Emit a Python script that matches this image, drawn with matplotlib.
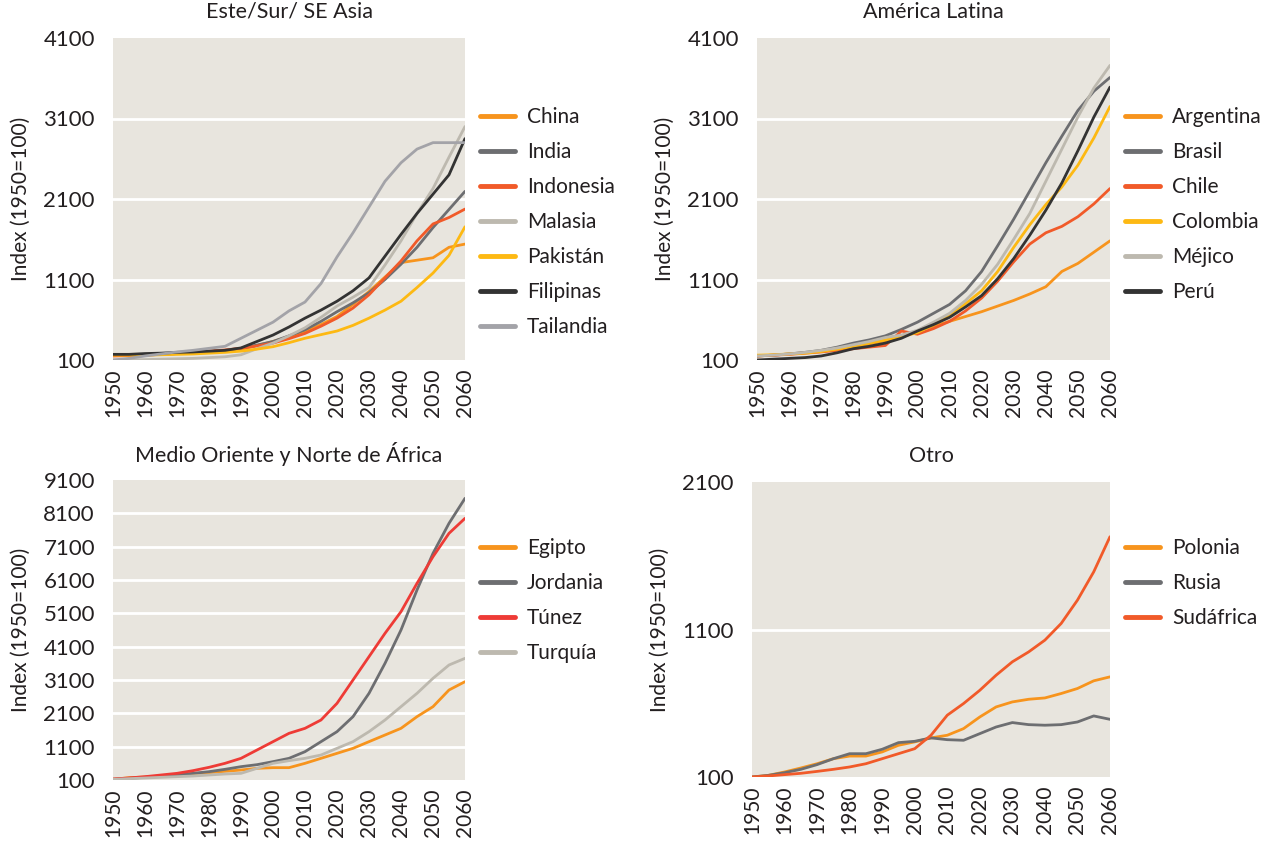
import matplotlib
matplotlib.use("Agg")
import matplotlib.pyplot as plt

plt.rcParams['font.family'] = ['Lato', 'DejaVu Sans']

years = list(range(1950, 2061, 5))
decades = list(range(1950, 2061, 10))

# Este/Sur/ SE Asia
china = [170, 170, 170, 175, 180, 190, 200, 210, 230, 280, 330, 390, 450, 540, 640, 790, 950, 1130, 1310, 1340, 1370, 1500, 1540]
india = [160, 160, 165, 170, 180, 190, 205, 220, 245, 285, 330, 400, 475, 580, 700, 810, 935, 1100, 1290, 1500, 1745, 1970, 2195]
indonesia = [150, 155, 160, 170, 180, 195, 210, 225, 245, 275, 310, 365, 430, 520, 620, 745, 910, 1120, 1330, 1580, 1790, 1870, 1975]
malasia = [100, 100, 105, 110, 115, 120, 130, 140, 165, 240, 310, 400, 500, 630, 770, 880, 1000, 1280, 1580, 1920, 2230, 2620, 3000]
pakistan = [160, 160, 160, 165, 170, 175, 185, 195, 210, 235, 265, 315, 370, 415, 460, 530, 620, 720, 830, 1000, 1180, 1400, 1755]
filipinas = [170, 170, 180, 185, 195, 200, 210, 220, 250, 330, 410, 510, 620, 720, 830, 960, 1120, 1390, 1660, 1920, 2160, 2400, 2850]
tailandia = [100, 120, 150, 175, 200, 220, 245, 270, 370, 470, 570, 710, 820, 1050, 1380, 1680, 2000, 2320, 2550, 2720, 2800, 2800, 2800]

# América Latina
argentina = [150, 160, 175, 190, 210, 240, 270, 300, 340, 400, 460, 520, 580, 640, 700, 770, 840, 920, 1010, 1200, 1300, 1440, 1580]
brasil = [150, 160, 175, 195, 220, 260, 310, 350, 400, 480, 570, 680, 790, 960, 1200, 1520, 1850, 2200, 2550, 2880, 3200, 3440, 3610]
chile = [150, 160, 170, 185, 200, 220, 240, 260, 280, 460, 420, 490, 580, 710, 870, 1080, 1320, 1540, 1680, 1760, 1880, 2040, 2230]
colombia = [160, 165, 175, 185, 205, 235, 270, 310, 350, 390, 440, 540, 650, 800, 960, 1200, 1500, 1780, 2030, 2250, 2520, 2860, 3250]
mejico = [150, 160, 175, 195, 220, 250, 290, 330, 380, 410, 470, 570, 680, 840, 1040, 1290, 1600, 1920, 2320, 2720, 3120, 3480, 3760]
peru = [100, 110, 120, 130, 150, 190, 240, 270, 310, 370, 460, 540, 630, 760, 900, 1110, 1360, 1650, 1960, 2300, 2700, 3120, 3490]

# Medio Oriente y Norte de África
egipto = [120, 170, 190, 220, 250, 290, 320, 360, 400, 450, 470, 470, 600, 750, 900, 1050, 1250, 1450, 1650, 2000, 2300, 2800, 3050]
jordania = [120, 150, 180, 220, 250, 300, 350, 420, 500, 560, 650, 750, 950, 1250, 1550, 2000, 2700, 3600, 4600, 5800, 6900, 7800, 8550]
tunez = [130, 160, 200, 250, 300, 380, 480, 600, 750, 1000, 1250, 1500, 1650, 1900, 2400, 3100, 3800, 4500, 5150, 6000, 6800, 7500, 7950]
turquia = [120, 140, 160, 180, 200, 220, 250, 280, 300, 450, 600, 680, 750, 850, 1050, 1250, 1550, 1900, 2300, 2700, 3150, 3550, 3750]

# Otro
polonia = [100, 111, 134, 161, 190, 224, 242, 242, 270, 315, 338, 365, 383, 428, 507, 575, 609, 627, 636, 666, 700, 752, 779]
rusia = [100, 111, 129, 152, 184, 224, 258, 258, 288, 333, 342, 365, 353, 349, 394, 439, 469, 455, 451, 455, 473, 514, 491]
sudafrica = [100, 107, 116, 125, 138, 152, 168, 190, 224, 258, 292, 383, 519, 598, 688, 790, 881, 948, 1028, 1141, 1299, 1491, 1729]

ORANGE = '#F7941D'
GRAY = '#6D6E71'
REDOR = '#F15A29'
BEIGE = '#BDB9AF'
YELLOW = '#FDB913'
DARK = '#333333'
LGRAY = '#A3A3A8'
RED = '#EE3B36'
BG = '#E8E5DE'
TXT = '#231F20'

panels = [
    ("Este/Sur/ SE Asia", [113, 38, 465, 360], [100, 1100, 2100, 3100, 4100],
     [("China", china, ORANGE), ("India", india, GRAY), ("Indonesia", indonesia, REDOR),
      ("Malasia", malasia, BEIGE), ("Pakistán", pakistan, YELLOW),
      ("Filipinas", filipinas, DARK), ("Tailandia", tailandia, LGRAY)], 116),
    ("América Latina", [757, 38, 1110, 360], [100, 1100, 2100, 3100, 4100],
     [("Argentina", argentina, ORANGE), ("Brasil", brasil, GRAY), ("Chile", chile, REDOR),
      ("Colombia", colombia, YELLOW), ("Méjico", mejico, BEIGE), ("Perú", peru, DARK)], 116),
    ("Medio Oriente y Norte de África", [113, 480, 465, 780], list(range(100, 9101, 1000)),
     [("Egipto", egipto, ORANGE), ("Jordania", jordania, GRAY), ("Túnez", tunez, RED),
      ("Turquía", turquia, BEIGE)], 547),
    ("Otro", [752, 482, 1110, 777], [100, 1100, 2100],
     [("Polonia", polonia, ORANGE), ("Rusia", rusia, GRAY), ("Sudáfrica", sudafrica, REDOR)], 547),
]

W, H = 1276, 843
fig = plt.figure(figsize=(W / 100, H / 100), dpi=100)

for title, (x0, y0, x1, y1), yticks, series, leg_y in panels:
    ax = fig.add_axes([x0 / W, 1 - y1 / H, (x1 - x0) / W, (y1 - y0) / H])
    ax.set_facecolor(BG)
    for name, vals, col in series:
        ax.plot(years, vals, color=col, lw=2.0, label=name, solid_capstyle='round')
    ax.set_xlim(1950, 2060)
    ax.set_ylim(yticks[0], yticks[-1])
    ax.set_xticks(decades)
    ax.set_xticklabels([str(d) for d in decades], rotation=90, fontsize=15, color=TXT)
    ax.set_yticks(yticks)
    ax.set_yticklabels([str(v) for v in yticks], fontsize=16, color=TXT)
    ax.tick_params(length=0)
    ax.tick_params(axis='y', pad=13)
    ax.tick_params(axis='x', pad=6)
    ax.yaxis.grid(True, color='white', lw=2)
    ax.set_axisbelow(True)
    ticks = ax.yaxis.get_major_ticks()
    ticks[0].gridline.set_visible(False)
    ticks[-1].gridline.set_visible(False)
    for s in ax.spines.values():
        s.set_visible(False)

    fig.text((x0 + x1) / 2 / W, 1 - (y0 - 26) / H, title, ha='center', va='center',
             fontsize=15.5, color=TXT)
    fig.text((x0 - 92) / W, 1 - (y0 + y1) / 2 / H, "Index (1950=100)", rotation=90,
             ha='center', va='center', fontsize=15, color=TXT)

    leg = ax.legend(loc='upper left',
                    bbox_to_anchor=((x1 + 15 - x0) / (x1 - x0), (y1 - (leg_y - 9)) / (y1 - y0)),
                    frameon=False, fontsize=15, handlelength=1.7, handletextpad=0.55,
                    labelspacing=0.72, borderaxespad=0, borderpad=0)
    for t in leg.get_texts():
        t.set_color(TXT)
    for ln in leg.get_lines():
        ln.set_linewidth(3.5)

fig.savefig("out.png", dpi=100)
